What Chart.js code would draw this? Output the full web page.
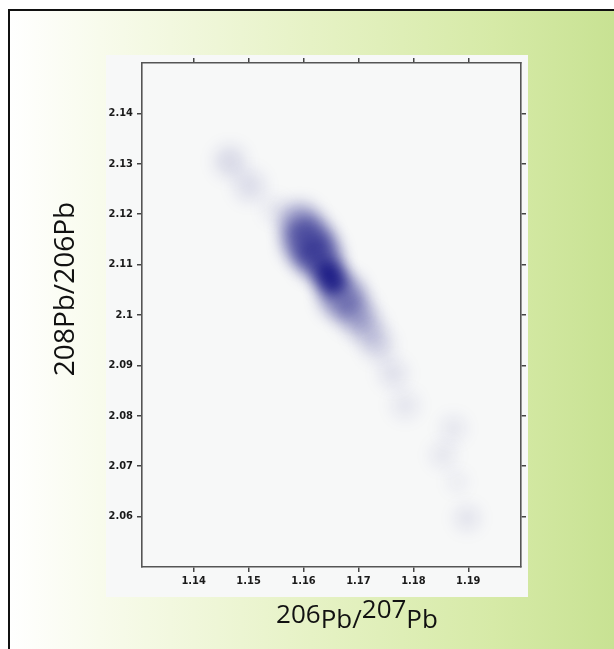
<!DOCTYPE html>
<html lang="en">
<head>
<meta charset="UTF-8">
<title>208Pb/206Pb vs 206Pb/207Pb</title>
<script src="https://cdn.jsdelivr.net/npm/chart.js"></script>
<style>
  html, body { margin: 0; padding: 0; background: #fff; }
  #wrap { width: 614px; height: 649px; }
</style>
</head>
<body>
<div id="wrap"><canvas id="chart" width="614" height="649"></canvas></div>
<script>
// axis ticks
const xTicks = [1.14, 1.15, 1.16, 1.17, 1.18, 1.19];
const yTicks = [2.06, 2.07, 2.08, 2.09, 2.1, 2.11, 2.12, 2.13, 2.14];

// density clusters (centre, relative density, spread in x units)
const clusterX = [1.1466, 1.1502, 1.1548,
  1.1593, 1.1608, 1.1626, 1.1645, 1.1654, 1.1670, 1.1694, 1.1716,
  1.1736, 1.1763, 1.1785, 1.1873, 1.1854, 1.1880, 1.1898];
const clusterY = [2.1305, 2.1256, 2.1210,
  2.1183, 2.1147, 2.1118, 2.1084, 2.1064, 2.1038, 2.1005, 2.0973,
  2.0940, 2.0884, 2.0821, 2.0775, 2.0722, 2.0669, 2.0597];
const clusterD = [0.13, 0.11, 0.08,
  0.35, 0.55, 0.55, 0.85, 0.80, 0.45, 0.30, 0.20,
  0.15, 0.10, 0.08, 0.08, 0.08, 0.07, 0.09];
const clusterS = [0.0028, 0.0028, 0.0022,
  0.0036, 0.0045, 0.0041, 0.0027, 0.0023, 0.0040, 0.0034, 0.0030,
  0.0027, 0.0025, 0.0025, 0.0023, 0.0023, 0.0017, 0.0023];

const xMin = 1.1306, xMax = 1.1996;
const yMin = 2.05, yMax = 2.15;

const fmt = v => String(+v.toFixed(2));
const tickFont = { family: '"DejaVu Sans Condensed", "DejaVu Sans", sans-serif', size: 11, weight: 'bold' };
const gridOpts = { drawOnChartArea: false, tickLength: 5, color: '#444', lineWidth: 1.5 };
const borderOpts = { color: '#555', width: 1.6 };

// page background: gradient frame and light panel behind the plot
const backdrop = {
  id: 'backdrop',
  beforeDraw(chart) {
    const ctx = chart.ctx;
    ctx.save();
    ctx.fillStyle = '#ffffff';
    ctx.fillRect(0, 0, 614, 649);
    const g = ctx.createLinearGradient(9, 0, 614, 0);
    g.addColorStop(0, '#ffffff');
    g.addColorStop(0.15, '#f8fbec');
    g.addColorStop(0.5, '#e6f2c5');
    g.addColorStop(0.8, '#d6eaa7');
    g.addColorStop(1, '#c8e293');
    ctx.fillStyle = g;
    ctx.fillRect(9, 10, 605, 639);
    ctx.strokeStyle = '#111';
    ctx.lineWidth = 2;
    ctx.beginPath();
    ctx.moveTo(9, 649);
    ctx.lineTo(9, 10);
    ctx.lineTo(614, 10);
    ctx.stroke();
    ctx.fillStyle = '#f7f8f8';
    ctx.fillRect(106, 55, 422, 542);
    ctx.restore();
  }
};

// soft edges for the density clusters
const blur = {
  id: 'blur',
  beforeDatasetDraw(chart) { chart.ctx.save(); chart.ctx.filter = 'blur(8px)'; },
  afterDatasetDraw(chart) { chart.ctx.restore(); }
};

// axis titles with isotope numbers
const titles = {
  id: 'titles',
  afterDraw(chart) {
    const ctx = chart.ctx;
    ctx.save();
    ctx.fillStyle = '#111';
    ctx.font = '28px "Open Sans"';
    ctx.translate(74, 289);
    ctx.rotate(-Math.PI / 2);
    ctx.textAlign = 'center';
    ctx.textBaseline = 'alphabetic';
    ctx.fillText('208Pb/206Pb', 0, 0);
    ctx.restore();

    ctx.save();
    ctx.fillStyle = '#111';
    ctx.font = '26px "Open Sans"';
    ctx.textBaseline = 'alphabetic';
    const parts = [['206', -5], ['Pb', 0], ['/', 0], ['207', -10], ['Pb', 0]];
    const total = parts.reduce((s, p) => s + ctx.measureText(p[0]).width, 0);
    let x = 357 - total / 2;
    parts.forEach(p => {
      ctx.fillText(p[0], x, 628 + p[1]);
      x += ctx.measureText(p[0]).width;
    });
    ctx.restore();
  }
};

const radius = ctx => {
  const sc = ctx.chart.scales.x;
  const i = ctx.dataIndex;
  if (i === undefined || !sc) return 0;
  return sc.getPixelForValue(clusterX[i] + clusterS[i]) - sc.getPixelForValue(clusterX[i]);
};

new Chart(document.getElementById('chart'), {
  type: 'scatter',
  data: {
    datasets: [{
      data: clusterX.map((x, i) => ({ x: x, y: clusterY[i] })),
      pointRadius: radius,
      pointHoverRadius: radius,
      borderWidth: 0,
      backgroundColor: ctx => `rgba(12, 12, 125, ${clusterD[ctx.dataIndex] || 0})`
    }]
  },
  options: {
    responsive: false,
    animation: false,
    events: [],
    layout: { padding: { top: 63, right: 93, left: 0, bottom: 0 } },
    plugins: { legend: { display: false }, tooltip: { enabled: false } },
    scales: {
      x: {
        type: 'linear', position: 'bottom', min: xMin, max: xMax,
        afterBuildTicks: s => { s.ticks = xTicks.map(v => ({ value: v })); },
        afterFit: s => { s.height = 82; },
        grid: gridOpts, border: borderOpts,
        ticks: { font: tickFont, color: '#1a1a1a', padding: 3, maxRotation: 0, autoSkip: false, callback: fmt }
      },
      y: {
        type: 'linear', position: 'left', min: yMin, max: yMax,
        afterBuildTicks: s => { s.ticks = yTicks.map(v => ({ value: v })); },
        afterFit: s => { s.width = 142; },
        grid: gridOpts, border: borderOpts,
        ticks: { font: tickFont, color: '#1a1a1a', padding: 4, autoSkip: false, callback: fmt }
      },
      x2: {
        type: 'linear', position: 'top', min: xMin, max: xMax,
        afterBuildTicks: s => { s.ticks = xTicks.map(v => ({ value: v })); },
        afterFit: s => { s.height = 0; },
        grid: gridOpts, border: borderOpts,
        ticks: { display: false }
      },
      y2: {
        type: 'linear', position: 'right', min: yMin, max: yMax,
        afterBuildTicks: s => { s.ticks = yTicks.map(v => ({ value: v })); },
        afterFit: s => { s.width = 0; },
        grid: gridOpts, border: borderOpts,
        ticks: { display: false }
      }
    }
  },
  plugins: [backdrop, blur, titles]
});
</script>
</body>
</html>
